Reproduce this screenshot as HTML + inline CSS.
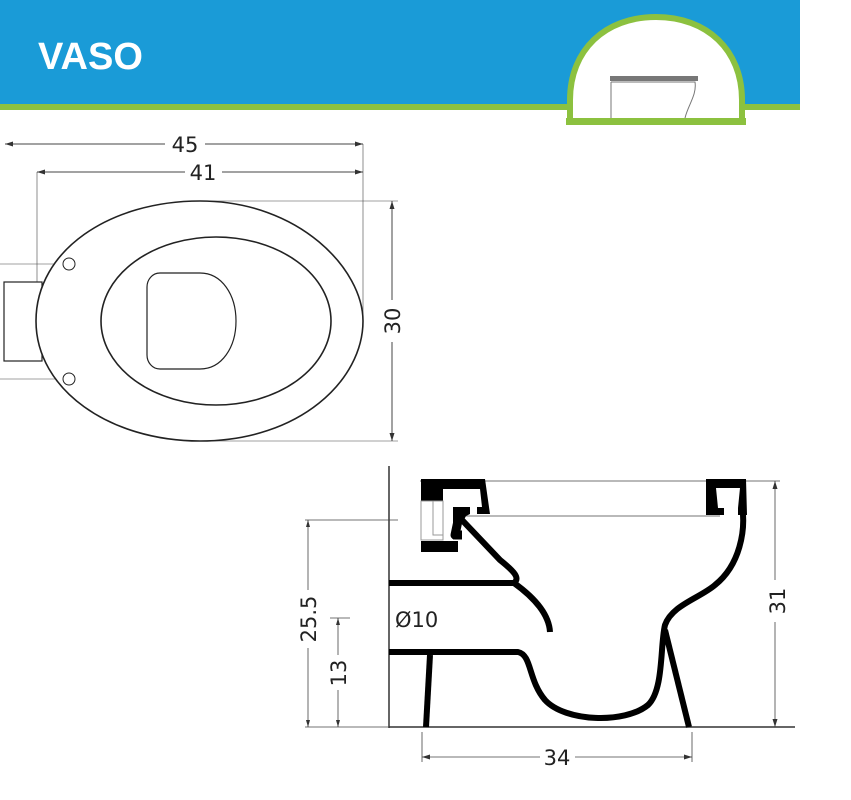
<!DOCTYPE html>
<html><head><meta charset="utf-8"><style>
html,body{margin:0;padding:0;background:#fff;}
svg{display:block;}
text{font-family:"DejaVu Sans","Liberation Sans",sans-serif;fill:#222;}
</style></head><body>
<svg width="851" height="800" viewBox="0 0 851 800" xmlns="http://www.w3.org/2000/svg">
<rect x="0" y="0" width="800" height="106" fill="#1a9bd7"/>
<rect x="0" y="104" width="800" height="6" fill="#8cc13f"/>
<text x="38" y="69" font-size="38" font-family="Liberation Sans" style="fill:#fff;font-family:'Liberation Sans',sans-serif" font-weight="bold">VASO</text>
<path d="M570,122 L570,100 C570,50 605,17 656,17 C707,17 742,50 742,100 L742,122 Z" fill="#fff" stroke="#8cc13f" stroke-width="6"/>
<rect x="566" y="118" width="180" height="7" fill="#8cc13f"/>
<rect x="610" y="76" width="88" height="5" fill="#777"/>
<path d="M611,82 L611,118 M611,82 L695,82 C697,95 688,105 685,118" fill="none" stroke="#777" stroke-width="1"/>

<!-- top view -->
<g stroke="#444" stroke-width="1" fill="none">
<line x1="5" y1="144" x2="165" y2="144"/><line x1="205" y1="144" x2="363" y2="144"/>
<line x1="37" y1="172" x2="185" y2="172"/><line x1="222" y1="172" x2="363" y2="172"/>
<line x1="363" y1="144" x2="363" y2="320" stroke-width="0.6"/>
<line x1="37" y1="172" x2="37" y2="282" stroke-width="0.6"/>
<line x1="200" y1="201" x2="398" y2="201" stroke-width="0.6"/>
<line x1="200" y1="441" x2="398" y2="441" stroke-width="0.6"/>
<line x1="392" y1="201" x2="392" y2="300"/><line x1="392" y1="342" x2="392" y2="441"/>
<line x1="0" y1="264" x2="63" y2="264" stroke-width="0.6"/>
<line x1="0" y1="379" x2="63" y2="379" stroke-width="0.6"/>
</g>
<g fill="#333">
<path d="M5,144 l8,-2.5 v5z"/><path d="M363,144 l-8,-2.5 v5z"/>
<path d="M37,172 l8,-2.5 v5z"/><path d="M363,172 l-8,-2.5 v5z"/>
<path d="M392,201 l-2.5,8 h5z"/><path d="M392,441 l-2.5,-8 h5z"/>
</g>
<text x="185" y="152" font-size="21" text-anchor="middle">45</text>
<text x="203" y="180" font-size="21" text-anchor="middle">41</text>
<text transform="translate(400,321) rotate(-90)" font-size="21" text-anchor="middle">30</text>
<g stroke="#222" stroke-width="1.6" fill="none">
<rect x="4" y="282" width="38" height="79" stroke-width="1.2"/>
<path d="M200,201 C300,201 363,270 363,321 C363,380 300,441 200,441 C110,441 36,390 36,321 C36,250 110,201 200,201Z" fill="#fff"/>
<ellipse cx="216" cy="321" rx="115" ry="84"/>
<path d="M160,273 L200,273 C222,273 236,295 236,321 C236,347 222,369 200,369 L160,369 C152,369 147,362 147,355 L147,287 C147,280 152,273 160,273Z" stroke-width="1.2"/>
<circle cx="69" cy="264" r="6" stroke-width="1"/>
<circle cx="69" cy="379" r="6" stroke-width="1"/>
</g>

<!-- side view dims -->
<g stroke="#444" stroke-width="0.8" fill="none">
<line x1="389" y1="466" x2="389" y2="728" stroke="#333" stroke-width="1.5"/>
<line x1="389" y1="727" x2="795" y2="727" stroke="#333" stroke-width="1.5"/>
<line x1="420" y1="481" x2="780" y2="481"/>
<line x1="465" y1="516" x2="720" y2="516"/>
<line x1="775" y1="481" x2="775" y2="580"/><line x1="775" y1="622" x2="775" y2="727"/>
<line x1="305" y1="520" x2="398" y2="520"/>
<line x1="308" y1="520" x2="308" y2="590"/><line x1="308" y1="648" x2="308" y2="727"/>
<line x1="338" y1="618" x2="338" y2="655"/><line x1="338" y1="690" x2="338" y2="727"/>
<line x1="330" y1="618" x2="350" y2="618"/>
<line x1="305" y1="727" x2="389" y2="727"/>
<line x1="422" y1="732" x2="422" y2="762"/><line x1="692" y1="732" x2="692" y2="762"/>
<line x1="422" y1="757" x2="540" y2="757"/><line x1="575" y1="757" x2="692" y2="757"/>
</g>
<g fill="#333">
<path d="M775,481 l-2.5,8 h5z"/><path d="M775,727 l-2.5,-8 h5z"/>
<path d="M308,520 l-2,7 h4z"/><path d="M308,727 l-2,-7 h4z"/>
<path d="M338,618 l-2,7 h4z"/><path d="M338,727 l-2,-7 h4z"/>
<path d="M422,757 l8,-2.5 v5z"/><path d="M692,757 l-8,-2.5 v5z"/>
</g>
<text transform="translate(785,601) rotate(-90)" font-size="21" text-anchor="middle">31</text>
<text transform="translate(316,619) rotate(-90)" font-size="21" text-anchor="middle">25.5</text>
<text transform="translate(346,673) rotate(-90)" font-size="21" text-anchor="middle">13</text>
<text x="557" y="765" font-size="21" text-anchor="middle">34</text>
<text x="395" y="627" font-size="21">Ø10</text>

<!-- side view body -->
<g fill="#000">
<path d="M421,479 L485,479 L490,514 L477,514 L477,507 L482,507 L480,489 L443,489 L443,501 L421,501Z"/>
<path d="M453,507 L470,507 L470,514 L466,516 L453,540Z"/>
<path d="M421,541 L458,541 L458,552 L421,552Z"/>
<path d="M706,479 L746,479 L747,515 L738,515 L738,508 L740,488 L716,488 L718,508 L724,508 L724,515 L706,515Z"/>
</g>
<rect x="421" y="501" width="22" height="39" fill="#fff" stroke="#999" stroke-width="1"/>
<rect x="433" y="501" width="10" height="34" fill="#fff" stroke="#999" stroke-width="1"/>
<g stroke="#000" stroke-width="6" fill="none" stroke-linejoin="round">
<path d="M459,516 L455,535 L462,535" stroke-width="9"/>
<path d="M462,520 L500,560 C515,572 520,578 514,583"/>
<path d="M389,583 L514,583 C535,598 549,615 550,632"/>
<path d="M389,652 L518,652 C532,655 528,680 545,700 C565,722 625,724 648,705 C664,690 660,645 665,625 C672,605 700,598 715,585 C740,565 746,530 742,506"/>
<path d="M430,655 L426,727"/>
<path d="M665,630 L689,727"/>
</g>
</svg>
</body></html>
